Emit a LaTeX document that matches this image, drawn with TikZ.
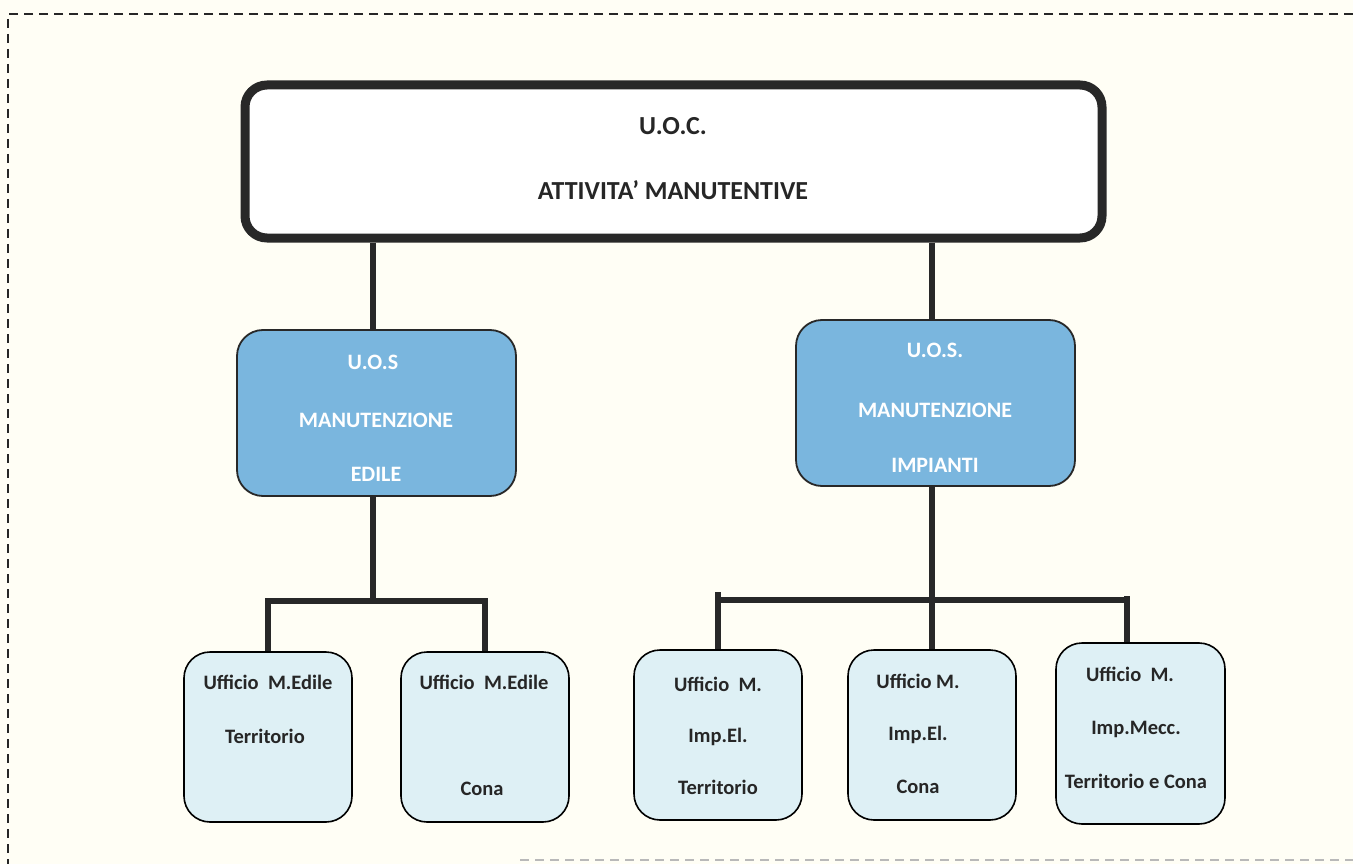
\documentclass[tikz,border=0pt]{standalone}
\usepackage{fontspec}
\setmainfont{Carlito}
\definecolor{bgcream}{RGB}{255,254,245}
\definecolor{uosblue}{RGB}{122,182,222}
\definecolor{uffblue}{RGB}{222,240,245}
\definecolor{darkline}{RGB}{40,40,40}
\begin{document}
\begin{tikzpicture}[x=1pt,y=-1pt,
  topbox/.style={draw=darkline, line width=9pt, rounded corners=22pt, fill=white},
  uosbox/.style={draw=darkline, line width=1.8pt, rounded corners=26pt, fill=uosblue},
  uffbox/.style={draw=black, line width=1.6pt, rounded corners=26pt, fill=uffblue},
  conn/.style={draw=darkline, line width=5.5pt},
  toptext/.style={font=\bfseries\fontsize{26}{30}\selectfont, text=black!85},
  uostext/.style={font=\bfseries\fontsize{22}{26}\selectfont, text=white},
  ufftext/.style={font=\bfseries\fontsize{20.5}{24}\selectfont, text=black!85},
  border/.style={draw=black!85, line width=2.6pt, dash pattern=on 9pt off 6pt}]
\fill[bgcream] (0,0) rectangle (1353,864);
\useasboundingbox (0,0) rectangle (1353,864);
% page border
\draw[border] (1353,14) -- (8,14) -- (8,864);
\draw[border, draw=gray!55] (520,860) -- (1353,860);

% top box
\node[topbox, minimum width=857pt, minimum height=153pt] (uoc) at (673.5,161.5) {};
\node[toptext] (uoct1) at (673,126) {U.O.C.};
\node[toptext] (uoct2) at (673,190) {ATTIVITA’ MANUTENTIVE};

% UOS boxes
\node[uosbox, minimum width=279pt, minimum height=166pt] (uosE) at (376.5,413) {};
\node[uostext] at (373,362) {U.O.S};
\node[uostext] at (376,420) {MANUTENZIONE};
\node[uostext] at (376,474) {EDILE};

\node[uosbox, minimum width=279pt, minimum height=166pt] (uosI) at (935.5,403) {};
\node[uostext] at (935,350) {U.O.S.};
\node[uostext] at (935,410) {MANUTENZIONE};
\node[uostext] at (935,465) {IMPIANTI};

% uffici
\node[uffbox, minimum width=168pt, minimum height=170pt] (u1) at (268,737) {};
\node[ufftext] at (268,682) {Ufficio\ \ M.Edile};
\node[ufftext] at (265,736) {Territorio};

\node[uffbox, minimum width=168pt, minimum height=170pt] (u2) at (485,737) {};
\node[ufftext] at (484,682) {Ufficio\ \ M.Edile};
\node[ufftext] at (482,789) {Cona};

\node[uffbox, minimum width=168pt, minimum height=170pt] (u3) at (718,735) {};
\node[ufftext] at (718,684) {Ufficio\ \ M.};
\node[ufftext] at (718,737) {Imp.El.};
\node[ufftext] at (718,787) {Territorio};

\node[uffbox, minimum width=168pt, minimum height=170pt] (u4) at (932,735) {};
\node[ufftext] at (918,681) {Ufficio M.};
\node[ufftext] at (918,735) {Imp.El.};
\node[ufftext] at (918,787) {Cona};

\node[uffbox, minimum width=169pt, minimum height=181pt] (u5) at (1140.5,733.5) {};
\node[ufftext] at (1130,674) {Ufficio\ \ M.};
\node[ufftext] at (1136,729) {Imp.Mecc.};
\node[ufftext] at (1136,781) {Territorio e Cona};

% coordinates for connectors
\coordinate (jE) at (373,601);
\coordinate (jI) at (932,600);

% connectors
\draw[conn] (uoc.south -| uosE.north) ++(-3.5,0) coordinate (a1) -- (a1 |- uosE.north);
\draw[conn] (uoc.south -| uosI.north) ++(-3.5,0) coordinate (a2) -- (a2 |- uosI.north);

\draw[conn] (uosE.south -| jE) -- (jE);
\draw[conn] (u1.north) |- (jE) -| (u2.north);

\draw[conn] (uosI.south -| jI) -- (u4.north);
\draw[conn] (u3.north) -- ++(0,-57);
\draw[conn] (718,600) -- (1127,600);
\draw[conn] (u5.north -| 1127,0) -- (1127,596);
\end{tikzpicture}
\end{document}
